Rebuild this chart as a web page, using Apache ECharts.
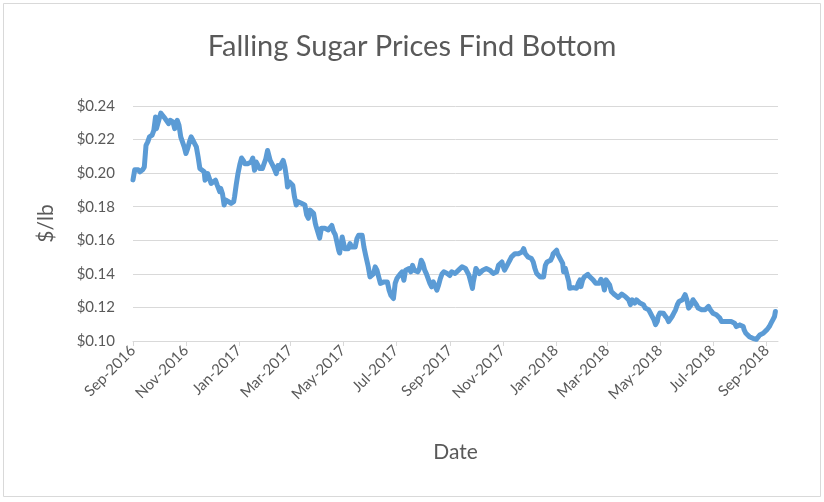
<!DOCTYPE html>
<html>
<head>
<meta charset="utf-8">
<script src="https://cdn.jsdelivr.net/npm/echarts@6/dist/echarts.min.js"></script>
<style>
  html, body { margin: 0; padding: 0; background: #fff; }
  #chart { width: 824px; height: 502px; }
</style>
</head>
<body>
<div id="chart"></div>
<script>
const titleText = 'Falling Sugar Prices Find Bottom'
const xAxisName = 'Date'
const yAxisName = '$/lb'

// month ticks on the date axis
const tickDates = ['2016-09-01', '2016-11-01', '2017-01-01', '2017-03-01', '2017-05-01', '2017-07-01',
  '2017-09-01', '2017-11-01', '2018-01-01', '2018-03-01', '2018-05-01', '2018-07-01', '2018-09-01']
const tickLabels = ['Sep-2016', 'Nov-2016', 'Jan-2017', 'Mar-2017', 'May-2017', 'Jul-2017',
  'Sep-2017', 'Nov-2017', 'Jan-2018', 'Mar-2018', 'May-2018', 'Jul-2018', 'Sep-2018']
const xStart = '2016-09-01'
const xEnd = '2018-09-14'
const yMin = 0.10
const yMax = 0.24
const yStep = 0.02

// sugar price, $/lb
const dates = [
  '2016-09-01', '2016-09-03', '2016-09-07', '2016-09-09', '2016-09-12', '2016-09-14', '2016-09-16', '2016-09-18',
  '2016-09-20', '2016-09-23', '2016-09-25', '2016-09-27', '2016-09-28', '2016-09-30', '2016-10-03', '2016-10-05',
  '2016-10-08', '2016-10-10', '2016-10-12', '2016-10-14', '2016-10-17', '2016-10-19', '2016-10-22', '2016-10-24',
  '2016-10-26', '2016-10-28', '2016-10-30', '2016-11-01', '2016-11-03', '2016-11-05', '2016-11-07', '2016-11-09',
  '2016-11-11', '2016-11-13', '2016-11-15', '2016-11-17', '2016-11-19', '2016-11-22', '2016-11-23', '2016-11-26',
  '2016-11-28', '2016-11-30', '2016-12-02', '2016-12-05', '2016-12-07', '2016-12-10', '2016-12-11', '2016-12-13',
  '2016-12-15', '2016-12-17', '2016-12-20', '2016-12-23', '2016-12-26', '2016-12-27', '2016-12-29', '2016-12-31',
  '2017-01-02', '2017-01-04', '2017-01-06', '2017-01-08', '2017-01-10', '2017-01-11', '2017-01-13', '2017-01-15',
  '2017-01-17', '2017-01-19', '2017-01-21', '2017-01-23', '2017-01-25', '2017-01-28', '2017-01-30', '2017-02-01',
  '2017-02-03', '2017-02-04', '2017-02-06', '2017-02-08', '2017-02-10', '2017-02-13', '2017-02-15', '2017-02-17',
  '2017-02-19', '2017-02-21', '2017-02-23', '2017-02-25', '2017-02-26', '2017-02-28', '2017-03-02', '2017-03-04',
  '2017-03-06', '2017-03-08', '2017-03-10', '2017-03-12', '2017-03-14', '2017-03-16', '2017-03-18', '2017-03-20',
  '2017-03-22', '2017-03-24', '2017-03-26', '2017-03-28', '2017-03-30', '2017-03-31', '2017-04-02', '2017-04-04',
  '2017-04-06', '2017-04-08', '2017-04-10', '2017-04-12', '2017-04-14', '2017-04-16', '2017-04-18', '2017-04-20',
  '2017-04-22', '2017-04-24', '2017-04-26', '2017-04-27', '2017-04-29', '2017-04-30', '2017-05-01', '2017-05-03',
  '2017-05-05', '2017-05-07', '2017-05-09', '2017-05-11', '2017-05-13', '2017-05-15', '2017-05-17', '2017-05-19',
  '2017-05-21', '2017-05-23', '2017-05-25', '2017-05-27', '2017-05-29', '2017-05-30', '2017-06-01', '2017-06-03',
  '2017-06-05', '2017-06-07', '2017-06-09', '2017-06-11', '2017-06-13', '2017-06-15', '2017-06-17', '2017-06-19',
  '2017-06-21', '2017-06-23', '2017-06-25', '2017-06-27', '2017-06-28', '2017-06-30', '2017-07-02', '2017-07-04',
  '2017-07-06', '2017-07-08', '2017-07-10', '2017-07-12', '2017-07-14', '2017-07-16', '2017-07-18', '2017-07-20',
  '2017-07-22', '2017-07-24', '2017-07-26', '2017-07-28', '2017-07-30', '2017-07-31', '2017-08-01', '2017-08-03',
  '2017-08-05', '2017-08-07', '2017-08-09', '2017-08-11', '2017-08-13', '2017-08-15', '2017-08-17', '2017-08-19',
  '2017-08-21', '2017-08-23', '2017-08-25', '2017-08-27', '2017-08-29', '2017-08-31', '2017-09-01', '2017-09-03',
  '2017-09-05', '2017-09-07', '2017-09-09', '2017-09-11', '2017-09-13', '2017-09-15', '2017-09-17', '2017-09-19',
  '2017-09-21', '2017-09-23', '2017-09-25', '2017-09-27', '2017-09-28', '2017-09-30', '2017-10-01', '2017-10-03',
  '2017-10-05', '2017-10-07', '2017-10-09', '2017-10-11', '2017-10-13', '2017-10-15', '2017-10-17', '2017-10-19',
  '2017-10-21', '2017-10-23', '2017-10-25', '2017-10-27', '2017-10-29', '2017-10-31', '2017-11-01', '2017-11-03',
  '2017-11-05', '2017-11-07', '2017-11-09', '2017-11-11', '2017-11-13', '2017-11-15', '2017-11-17', '2017-11-19',
  '2017-11-21', '2017-11-23', '2017-11-25', '2017-11-27', '2017-11-29', '2017-11-30', '2017-12-02', '2017-12-04',
  '2017-12-06', '2017-12-08', '2017-12-10', '2017-12-12', '2017-12-14', '2017-12-16', '2017-12-18', '2017-12-20',
  '2017-12-22', '2017-12-24', '2017-12-26', '2017-12-28', '2017-12-29', '2017-12-31', '2018-01-02', '2018-01-03',
  '2018-01-05', '2018-01-07', '2018-01-09', '2018-01-10', '2018-01-12', '2018-01-14', '2018-01-16', '2018-01-17',
  '2018-01-19', '2018-01-21', '2018-01-23', '2018-01-25', '2018-01-27', '2018-01-29', '2018-01-30', '2018-02-01',
  '2018-02-03', '2018-02-05', '2018-02-07', '2018-02-09', '2018-02-11', '2018-02-13', '2018-02-15', '2018-02-16',
  '2018-02-18', '2018-02-20', '2018-02-22', '2018-02-24', '2018-02-26', '2018-02-28', '2018-03-02', '2018-03-04',
  '2018-03-06', '2018-03-08', '2018-03-10', '2018-03-12', '2018-03-14', '2018-03-16', '2018-03-18', '2018-03-20',
  '2018-03-22', '2018-03-24', '2018-03-26', '2018-03-28', '2018-03-30', '2018-03-31', '2018-04-02', '2018-04-04',
  '2018-04-06', '2018-04-08', '2018-04-10', '2018-04-12', '2018-04-14', '2018-04-16', '2018-04-18', '2018-04-20',
  '2018-04-22', '2018-04-24', '2018-04-26', '2018-04-28', '2018-04-29', '2018-05-01', '2018-05-03', '2018-05-05',
  '2018-05-07', '2018-05-09', '2018-05-11', '2018-05-13', '2018-05-15', '2018-05-17', '2018-05-19', '2018-05-21',
  '2018-05-23', '2018-05-25', '2018-05-27', '2018-05-29', '2018-05-30', '2018-06-01', '2018-06-03', '2018-06-05',
  '2018-06-06', '2018-06-08', '2018-06-10', '2018-06-12', '2018-06-14', '2018-06-16', '2018-06-18', '2018-06-20',
  '2018-06-22', '2018-06-24', '2018-06-26', '2018-06-28', '2018-06-30', '2018-07-01', '2018-07-03', '2018-07-05',
  '2018-07-07', '2018-07-09', '2018-07-11', '2018-07-13', '2018-07-14', '2018-07-16', '2018-07-18', '2018-07-20',
  '2018-07-22', '2018-07-24', '2018-07-26', '2018-07-28', '2018-07-30', '2018-08-01', '2018-08-03', '2018-08-05',
  '2018-08-06', '2018-08-08', '2018-08-10', '2018-08-12', '2018-08-14', '2018-08-16', '2018-08-18', '2018-08-20',
  '2018-08-22', '2018-08-24', '2018-08-26', '2018-08-28', '2018-08-30', '2018-09-01', '2018-09-02', '2018-09-04',
  '2018-09-06', '2018-09-08', '2018-09-10', '2018-09-11'
]
const prices = [
  0.1960, 0.2020, 0.2020, 0.2008, 0.2020, 0.2036, 0.2166, 0.2186,
  0.2216, 0.2226, 0.2255, 0.2335, 0.2265, 0.2265, 0.2358, 0.2345,
  0.2325, 0.2335, 0.2295, 0.2315, 0.2305, 0.2265, 0.2315, 0.2285,
  0.2216, 0.2186, 0.2156, 0.2117, 0.2147, 0.2186, 0.2216, 0.2196,
  0.2176, 0.2156, 0.2097, 0.2028, 0.2018, 0.2008, 0.1958, 0.1998,
  0.1968, 0.1939, 0.1929, 0.1958, 0.1929, 0.1889, 0.1909, 0.1879,
  0.1810, 0.1840, 0.1830, 0.1820, 0.1830, 0.1860, 0.1935, 0.2000,
  0.2050, 0.2090, 0.2076, 0.2056, 0.2046, 0.2056, 0.2050, 0.2066,
  0.2090, 0.2017, 0.2066, 0.2046, 0.2027, 0.2027, 0.2036, 0.2086,
  0.2135, 0.2125, 0.2076, 0.2086, 0.2036, 0.1997, 0.2046, 0.2027,
  0.2056, 0.2076, 0.2036, 0.1967, 0.1918, 0.1948, 0.1958, 0.1928,
  0.1859, 0.1810, 0.1830, 0.1820, 0.1820, 0.1830, 0.1810, 0.1751,
  0.1731, 0.1780, 0.1770, 0.1761, 0.1701, 0.1682, 0.1672, 0.1613,
  0.1672, 0.1682, 0.1672, 0.1682, 0.1662, 0.1662, 0.1688, 0.1652,
  0.1633, 0.1623, 0.1540, 0.1524, 0.1590, 0.1620, 0.1610, 0.1550,
  0.1541, 0.1550, 0.1580, 0.1560, 0.1550, 0.1560, 0.1610, 0.1630,
  0.1640, 0.1630, 0.1560, 0.1511, 0.1501, 0.1442, 0.1382, 0.1372,
  0.1400, 0.1442, 0.1422, 0.1382, 0.1343, 0.1333, 0.1352, 0.1343,
  0.1352, 0.1303, 0.1273, 0.1263, 0.1253, 0.1343, 0.1372, 0.1382,
  0.1400, 0.1412, 0.1362, 0.1422, 0.1412, 0.1432, 0.1412, 0.1451,
  0.1422, 0.1432, 0.1412, 0.1432, 0.1481, 0.1491, 0.1461, 0.1422,
  0.1400, 0.1372, 0.1343, 0.1323, 0.1352, 0.1352, 0.1303, 0.1333,
  0.1372, 0.1400, 0.1412, 0.1422, 0.1402, 0.1412, 0.1390, 0.1412,
  0.1412, 0.1402, 0.1412, 0.1422, 0.1412, 0.1442, 0.1451, 0.1432,
  0.1412, 0.1392, 0.1382, 0.1313, 0.1352, 0.1402, 0.1432, 0.1442,
  0.1402, 0.1412, 0.1422, 0.1412, 0.1432, 0.1432, 0.1422, 0.1412,
  0.1402, 0.1392, 0.1412, 0.1451, 0.1461, 0.1471, 0.1451, 0.1422,
  0.1442, 0.1461, 0.1481, 0.1501, 0.1511, 0.1520, 0.1511, 0.1520,
  0.1511, 0.1530, 0.1550, 0.1520, 0.1530, 0.1501, 0.1501, 0.1491,
  0.1471, 0.1432, 0.1402, 0.1392, 0.1382, 0.1372, 0.1382, 0.1451,
  0.1471, 0.1471, 0.1481, 0.1501, 0.1520, 0.1530, 0.1541, 0.1521,
  0.1501, 0.1482, 0.1462, 0.1413, 0.1433, 0.1393, 0.1354, 0.1314,
  0.1314, 0.1318, 0.1324, 0.1314, 0.1344, 0.1364, 0.1324, 0.1364,
  0.1383, 0.1393, 0.1397, 0.1383, 0.1373, 0.1364, 0.1358, 0.1344,
  0.1334, 0.1344, 0.1368, 0.1354, 0.1304, 0.1364, 0.1354, 0.1334,
  0.1295, 0.1285, 0.1275, 0.1265, 0.1259, 0.1265, 0.1279, 0.1275,
  0.1265, 0.1255, 0.1245, 0.1216, 0.1245, 0.1236, 0.1226, 0.1245,
  0.1236, 0.1226, 0.1236, 0.1216, 0.1196, 0.1186, 0.1186, 0.1167,
  0.1147, 0.1127, 0.1098, 0.1117, 0.1147, 0.1167, 0.1176, 0.1166,
  0.1150, 0.1137, 0.1116, 0.1126, 0.1146, 0.1166, 0.1186, 0.1216,
  0.1236, 0.1246, 0.1246, 0.1256, 0.1276, 0.1246, 0.1196, 0.1186,
  0.1216, 0.1246, 0.1246, 0.1216, 0.1196, 0.1196, 0.1186, 0.1190,
  0.1186, 0.1196, 0.1206, 0.1186, 0.1176, 0.1166, 0.1156, 0.1156,
  0.1146, 0.1136, 0.1116, 0.1106, 0.1116, 0.1110, 0.1116, 0.1106,
  0.1116, 0.1116, 0.1106, 0.1086, 0.1086, 0.1096, 0.1106, 0.1086,
  0.1066, 0.1046, 0.1036, 0.1026, 0.1022, 0.1016, 0.1010, 0.1010,
  0.1016, 0.1036, 0.1046, 0.1046, 0.1056, 0.1066, 0.1076, 0.1086,
  0.1106, 0.1126, 0.1146, 0.1176
]

// dates are drawn on a numeric (timestamp) axis so the month ticks can be placed exactly
const toTime = (d) => +echarts.time.parse(d)
const tickTimes = tickDates.map(toTime)
const labelColor = '#595959'
const gridColor = '#D9D9D9'
const font = 'Lato, "Open Sans", sans-serif'

const chart = echarts.init(document.getElementById('chart'), null, { renderer: 'canvas' })

chart.setOption({
  animation: false,
  backgroundColor: '#ffffff',
  title: {
    text: titleText,
    left: 'center',
    top: 27,
    textStyle: { color: labelColor, fontSize: 29, fontWeight: 'normal', fontFamily: font },
  },
  grid: { left: 133, right: 46, top: 106, bottom: 161 },
  xAxis: {
    type: 'value',
    min: toTime(xStart),
    max: toTime(xEnd),
    name: xAxisName,
    nameLocation: 'middle',
    nameGap: 101,
    nameTextStyle: { color: labelColor, fontSize: 21, fontFamily: font },
    axisLine: { show: true, onZero: false, lineStyle: { color: gridColor, width: 1 } },
    axisTick: {
      show: true,
      customValues: tickTimes,
      length: 5,
      lineStyle: { color: gridColor },
    },
    axisLabel: {
      customValues: tickTimes,
      rotate: 45,
      margin: 7,
      color: labelColor,
      fontSize: 15,
      fontFamily: font,
      formatter: (v) => tickLabels[tickTimes.indexOf(v)] ?? '',
    },
    splitLine: { show: false },
  },
  yAxis: {
    type: 'value',
    min: yMin,
    max: yMax,
    interval: yStep,
    name: yAxisName,
    nameLocation: 'middle',
    nameGap: 76,
    nameTextStyle: { color: labelColor, fontSize: 21, fontFamily: font },
    axisLine: { show: false },
    axisTick: { show: false },
    axisLabel: {
      margin: 18,
      color: labelColor,
      fontSize: 15,
      fontFamily: font,
      formatter: (v) => '$' + v.toFixed(2),
    },
    splitLine: { lineStyle: { color: gridColor, width: 1 } },
  },
  graphic: [
    {
      type: 'rect',
      shape: { x: 3.5, y: 3.5, width: 817, height: 493 },
      style: { fill: 'none', stroke: gridColor, lineWidth: 1 },
      silent: true,
    },
  ],
  series: [
    {
      type: 'line',
      data: dates.map((d, i) => [toTime(d), prices[i]]),
      showSymbol: false,
      lineStyle: { color: '#5B9BD5', width: 5, cap: 'round', join: 'round' },
      itemStyle: { color: '#5B9BD5' },
    },
  ],
})
</script>
</body>
</html>
